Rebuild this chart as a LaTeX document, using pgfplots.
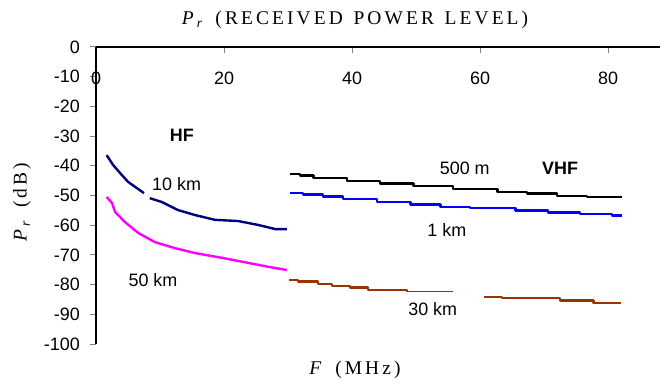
\documentclass[border=0pt]{standalone}
\usepackage{pgfplots}
\pgfplotsset{compat=1.18}
\usepackage{fontspec}
\setmainfont{Liberation Sans}
\newfontfamily\titlefont[LetterSpace=16]{Liberation Serif}
\definecolor{navyline}{RGB}{0,0,128}
\definecolor{magline}{RGB}{255,0,255}
\definecolor{blueline}{RGB}{0,0,255}
\definecolor{brownline}{RGB}{153,51,0}
\newcommand{\wsp}{\hspace{0.55em}}

\begin{document}
\begin{tikzpicture}
\useasboundingbox (-96bp,-41bp) rectangle (572bp,344bp);
\begin{axis}[
  scale only axis,
  width=564bp, height=297bp,
  xmin=0, xmax=88.1,
  ymin=-100, ymax=0,
  axis x line=top,
  axis y line=left,
  axis line style={-, line width=1.3pt},
  xtick={0,20,...,80},
  ytick={0,-10,...,-100},
  major tick length=6bp,
  tick style={line width=1pt},
  xtick align=inside,
  ytick align=outside,
  tick label style={font=\fontsize{18}{20}\selectfont},
  /pgf/number format/assume math mode=true,
  xticklabel style={anchor=center, inner sep=0pt, yshift=-31bp},
  yticklabel style={anchor=east, inner sep=0pt, xshift=-10bp},
  clip=false,
  every axis plot/.append style={line width=2.4bp, line join=round},
]
% 10 km
\addplot[navyline] coordinates {
  (1.67,-36.4) (2.66,-39.7) (3.75,-42.4) (5.0,-45.4) (7.5,-49.2)
};
\addplot[navyline] coordinates {
  (8.4,-50.9) (10.3,-52.2) (12.8,-54.9) (15.5,-56.6) (18.6,-58.2)
  (22.2,-58.6) (25.3,-59.9) (28.0,-61.3) (29.8,-61.3)
};
% 50 km
\addplot[magline] coordinates {
  (1.67,-50.5) (2.5,-52.5) (3.0,-55.6) (4.5,-58.9) (6.6,-62.6)
  (9.2,-65.7) (12.3,-67.7) (15.5,-69.4) (19.7,-71.0) (23.8,-72.7)
  (26.9,-74.0) (29.8,-75.1)
};
% 500 m (stepped)
\addplot[black, const plot] coordinates {
  (30.3,-42.8) (31.9,-43.2) (34.0,-44.2) (39.2,-45.1) (44.4,-45.9)
  (49.6,-46.8) (55.8,-47.8) (62.7,-48.9) (67.3,-49.3) (72.0,-50.1)
  (76.7,-50.6) (82.2,-50.6)
};
% 1 km (stepped)
\addplot[blueline, const plot] coordinates {
  (30.3,-49.2) (32.3,-49.6) (35.5,-50.4) (38.6,-51.2) (43.9,-52.1)
  (49.1,-53.0) (53.8,-53.8) (58.4,-54.3) (65.5,-55.0) (70.6,-55.7)
  (75.6,-56.2) (80.6,-56.8) (82.2,-56.8)
};
% 30 km (stepped, with a thin stretch and a gap)
\addplot[brownline, const plot] coordinates {
  (30.2,-78.5) (31.6,-79.0) (34.7,-79.8) (36.9,-80.4) (39.7,-81.0)
  (42.5,-81.8) (48.6,-82.4)
};
\addplot[brownline, line width=1.2bp] coordinates {
  (48.6,-82.4) (55.8,-82.4)
};
\addplot[brownline, const plot] coordinates {
  (60.6,-84.1) (63.4,-84.6) (72.5,-85.4) (77.7,-86.1) (82.0,-86.1)
};

\begin{scope}[every node/.style={font=\fontsize{18}{20}\selectfont}]
\node[font=\fontsize{18}{20}\selectfont\bfseries] at (axis cs:13.4,-29.6) {HF};
\node at (axis cs:12.6,-46.3) {10 km};
\node at (axis cs:8.9,-78.4) {50 km};
\node at (axis cs:57.6,-40.7) {500 m};
\node[font=\fontsize{18}{20}\selectfont\bfseries] at (axis cs:72.5,-40.7) {VHF};
\node at (axis cs:54.8,-61.6) {1 km};
\node at (axis cs:52.6,-88.2) {30 km};
\end{scope}
\end{axis}
\node[font=\titlefont\fontsize{19.5}{21}\selectfont] at (259bp,324bp)
  {\textit{P}\textsubscript{\textit{r}}\wsp(RECEIVED\wsp POWER\wsp LEVEL)};
\node[font=\titlefont\fontsize{19.5}{21}\selectfont] at (259bp,-26bp)
  {\textit{F}\wsp(MHz)};
\node[font=\titlefont\fontsize{19.5}{21}\selectfont, rotate=90] at (-74bp,142bp)
  {\textit{P}\textsubscript{\textit{r}}\wsp(dB)};
\end{tikzpicture}
\end{document}
